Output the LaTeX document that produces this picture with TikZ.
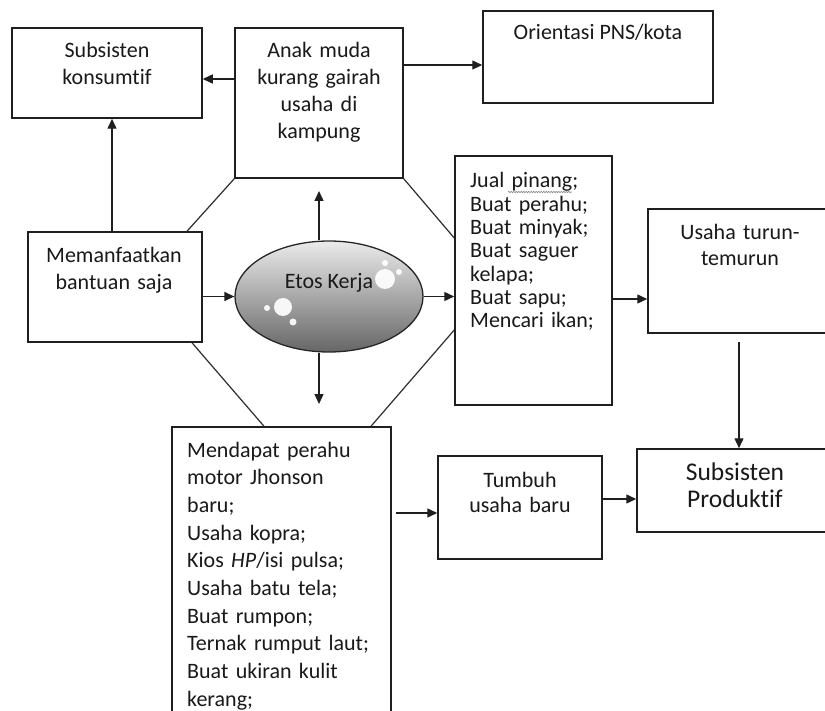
\documentclass[tikz,border=0pt]{standalone}
\usepackage{fontspec}
\setmainfont[Ligatures=NoCommon]{Carlito}
\usetikzlibrary{arrows.meta,shapes.geometric,decorations.pathmorphing}
\begin{document}
\begin{tikzpicture}[x=1pt,y=-1pt,
  box/.style={draw=black!88, line width=1.5pt, rectangle, inner sep=0pt},
  arr/.style={-{Triangle[length=10pt,width=9pt]}, line width=1.4pt, draw=black!88},
  link/.style={line width=1.2pt, draw=black!82},
  txt/.style={font=\fontsize{22}{27}\selectfont, inner sep=0pt, align=center, anchor=base, text=black!90},
  bubble/.style={fill=white, opacity=0.92}
]
\clip (0,0) rectangle (825,711);
\fill[white] (0,0) rectangle (825,711);

% boxes
\node[box, minimum width=190pt, minimum height=90pt] (sk) at (107,73) {};
\node[box, minimum width=168pt, minimum height=150pt] (anak) at (319,103) {};
\node[box, minimum width=230pt, minimum height=92pt] (orient) at (598,57) {};
\node[box, minimum width=174pt, minimum height=110pt] (mem) at (115,287) {};
\node[ellipse, draw=black!85, line width=1.3pt, top color=black!8, bottom color=black!60,
      minimum width=188pt, minimum height=111pt, inner sep=0pt] (etos) at (329,296.5) {};
\node[box, minimum width=157pt, minimum height=249pt] (jual) at (533.5,280.5) {};
\node[box, minimum width=184pt, minimum height=124pt] (usaha) at (740,271) {};
\node[box, minimum width=219pt, minimum height=303pt] (bawah) at (281.5,578.5) {};
\node[box, minimum width=164pt, minimum height=103pt] (tumbuh) at (520,507.5) {};
\node[box, minimum width=196pt, minimum height=83pt] (prod) at (735,490.5) {};

% bubbles on the ellipse
\fill[bubble] (283,307) circle[radius=9];
\fill[bubble] (267,308) circle[radius=3];
\fill[bubble] (293,322) circle[radius=3.5];
\fill[bubble] (385,279) circle[radius=10];
\fill[bubble] (385,263) circle[radius=3];
\fill[bubble] (399,272) circle[radius=3];

% texts
\node[txt, text width=185pt] (tsk) at (107,58) {Subsisten\\konsumtif};
\node[txt, text width=165pt] (tanak) at (319,58) {Anak muda\\kurang gairah\\usaha di\\kampung};
\node[txt] (torient) at (598,40) {Orientasi PNS/kota};
\node[txt, text width=170pt] (tmem) at (114,263) {Memanfaatkan\\bantuan saja};
\node[txt] (tetos) at (329,289) {Etos Kerja};
\node[txt, anchor=base west, align=left, text width=140pt, font=\fontsize{22}{23.3}\selectfont] (tjual) at (470,188)
  {Jual pinang;\\Buat perahu;\\Buat minyak;\\Buat saguer\\kelapa;\\Buat sapu;\\Mencari ikan;};
\node[txt, text width=180pt, font=\fontsize{22}{26}\selectfont] (tusaha) at (740,240) {Usaha turun-\\temurun};
\node[txt, anchor=base west, align=left, text width=200pt, font=\fontsize{22}{27.7}\selectfont] (tbawah) at (187,457)
  {Mendapat perahu\\motor Jhonson\\baru;\\Usaha kopra;\\Kios \textit{HP}/isi pulsa;\\Usaha batu tela;\\Buat rumpon;\\Ternak rumput laut;\\Buat ukiran kulit\\kerang;};
\node[txt, text width=160pt, font=\fontsize{22}{25}\selectfont] (ttumbuh) at (520,487) {Tumbuh\\usaha baru};
\node[txt, text width=190pt, font=\fontsize{25.5}{27}\selectfont] (tprod) at (735,480) {Subsisten\\Produktif};

% spell-check squiggle under "pinang"
\draw[black!45, line width=0.6pt, decorate, decoration={snake, amplitude=0.7pt, segment length=2.5pt}] (508,192) -- (572,192);

% arrows
\draw[arr] (anak.west |- 0,79) -- (sk.east |- 0,79);
\draw[arr] (anak.east |- 0,65) -- (orient.west |- 0,65);
\draw[arr] (mem.north -| 112,0) -- (sk.south -| 112,0);
\draw[arr] (mem.east |- etos.west) -- (etos.west);
\coordinate (etosup) at (319,191);
\draw[arr] (etos.north -| etosup) -- (etosup);
\coordinate (etosdn) at (319,404);
\draw[arr] (etos.south -| etosdn) -- (etosdn);
\draw[arr] (etos.east) -- (jual.west |- etos.east);
\draw[arr] (jual.east |- 0,299) -- (usaha.west |- 0,299);
\coordinate (usahabot) at (739,342);
\draw[arr] (usahabot) -- (prod.north -| usahabot);
\coordinate (bawahout) at (396,513);
\draw[arr] (bawahout) -- (tumbuh.west |- bawahout);
\draw[arr] (tumbuh.east |- 0,499) -- (prod.west |- 0,499);

% octagon links
\draw[link] (anak.south west) -- (mem.north -| 187,0);
\draw[link] (anak.south east) -- (jual.west |- 0,238);
\draw[link] (mem.south -| 192,0) -- (bawah.north -| 264,0);
\draw[link] (jual.west |- 0,330) -- (bawah.north -| 371,0);
\end{tikzpicture}
\end{document}
